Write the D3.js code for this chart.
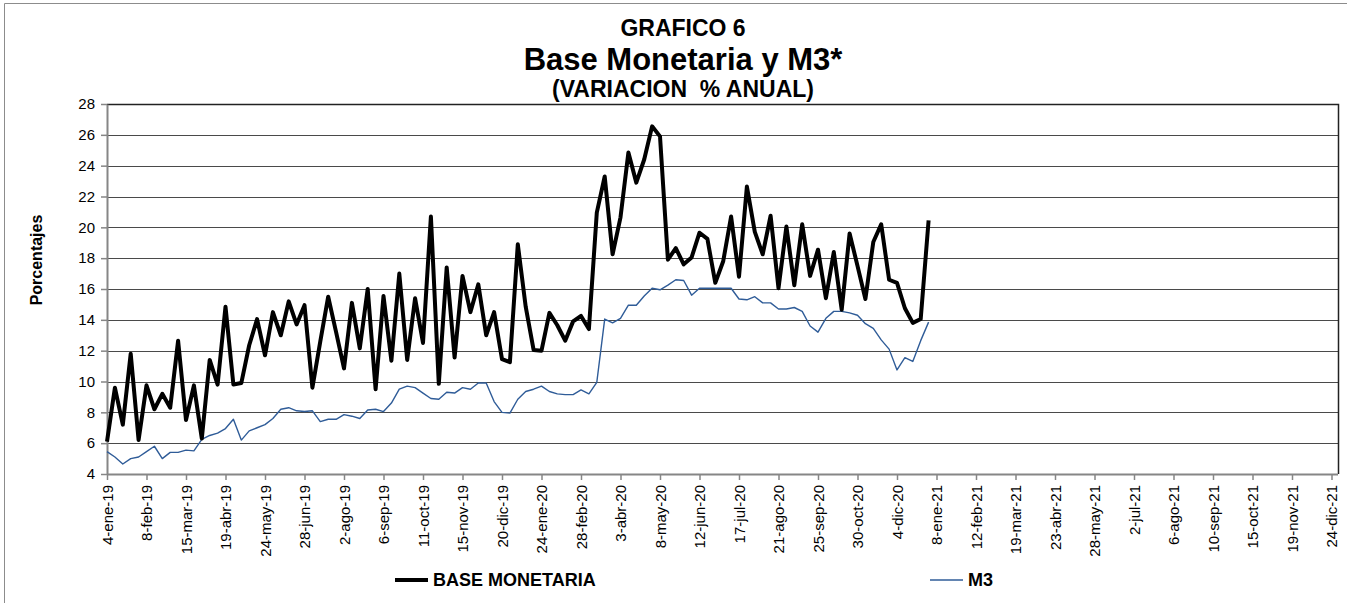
<!DOCTYPE html>
<html>
<head>
<meta charset="utf-8">
<script src="https://cdn.jsdelivr.net/npm/d3@7"></script>
<style>
  body { margin: 0; background: #fff; }
  text { font-family: "Liberation Sans", Arial, sans-serif; }
</style>
</head>
<body>
<div id="chart"></div>
<script>
var width = 1347;
var height = 603;

// semanas desde 4-ene-19 hasta 1-ene-21
var firstWeek = new Date(2019, 0, 4);
var base_monetaria = [
  6.1, 9.6, 7.2, 11.8, 6.2, 9.75, 8.2, 9.2, 8.3, 12.65,
  7.5, 9.75, 6.3, 11.4, 9.8, 14.85, 9.8, 9.9, 12.35, 14.05,
  11.7, 14.5, 13.0, 15.2, 13.7, 14.95, 9.6, 12.6, 15.5, 13.2,
  10.85, 15.1, 12.15, 16.0, 9.5, 15.55, 11.35, 17.0, 11.4, 15.4,
  12.5, 20.7, 9.85, 17.4, 11.55, 16.85, 14.5, 16.3, 13.0, 14.5,
  11.45, 11.25, 18.9, 14.85, 12.05, 12.0, 14.45, 13.65, 12.65, 13.9,
  14.25, 13.4, 20.95, 23.3, 18.25, 20.65, 24.85, 22.9, 24.4, 26.55,
  25.9, 17.9, 18.65, 17.6, 18.05, 19.65, 19.25, 16.4, 17.8, 20.7,
  16.8, 22.65, 19.7, 18.25, 20.75, 16.05, 20.05, 16.25, 20.2, 16.85,
  18.55, 15.4, 18.4, 14.65, 19.6, 17.5, 15.35, 19.05, 20.2, 16.6,
  16.4, 14.75, 13.8, 14.05, 20.45
];
var m3 = [
  5.45, 5.1, 4.65, 5.0, 5.1, 5.45, 5.8, 5.0, 5.4, 5.4,
  5.55, 5.5, 6.25, 6.5, 6.65, 6.95, 7.55, 6.2, 6.8, 7.0,
  7.2, 7.6, 8.2, 8.3, 8.1, 8.05, 8.1, 7.4, 7.55, 7.55,
  7.85, 7.75, 7.6, 8.15, 8.2, 8.05, 8.6, 9.5, 9.7, 9.6,
  9.25, 8.9, 8.85, 9.3, 9.25, 9.6, 9.5, 9.9, 9.9, 8.7,
  8.0, 7.95, 8.85, 9.35, 9.5, 9.7, 9.35, 9.2, 9.15, 9.15,
  9.45, 9.2, 9.95, 14.05, 13.8, 14.1, 14.95, 14.95, 15.55, 16.05,
  15.95, 16.25, 16.6, 16.55, 15.6, 16.05, 16.05, 16.05, 16.05, 16.05,
  15.35, 15.3, 15.5, 15.1, 15.1, 14.7, 14.7, 14.8, 14.55, 13.6,
  13.2, 14.1, 14.55, 14.55, 14.45, 14.3, 13.75, 13.45, 12.7, 12.1,
  10.75, 11.55, 11.3, 12.65, 13.85
];
var y_ticks = [4, 6, 8, 10, 12, 14, 16, 18, 20, 22, 24, 26, 28];
var month_names = ["ene", "feb", "mar", "abr", "may", "jun", "jul", "ago", "sep", "oct", "nov", "dic"];
var title_lines = ["GRAFICO 6", "Base Monetaria y M3*", "(VARIACION  % ANUAL)"];
var series_names = ["BASE MONETARIA", "M3"];

let axis_color = "#868686";
let grid_color = "#4a4a4a";
let base_color = "#000000";
let m3_color = "#2f5c98";

var weeks = base_monetaria.map(function(d, i) { return d3.timeWeek.offset(firstWeek, i); });
var lastTick = new Date(2021, 11, 24);
var x_ticks = d3.timeDay.range(firstWeek, d3.timeDay.offset(lastTick, 1), 35);

// bordes del area de trazado
var p_left = 107, p_right = 1338, p_top = 104, p_bottom = 474;

var svg = d3.select("#chart").append("svg")
  .attr("width", width)
  .attr("height", height);

// marco exterior
svg.append("path")
  .attr("d", "M4.5," + height + " L4.5,3.5 L" + width + ",3.5")
  .style("fill", "none")
  .style("stroke", "#8c8c8c")
  .style("stroke-width", 1);

var xscale = d3.scaleTime()
  .domain([firstWeek, lastTick])
  .range([p_left, 1331.5]);

var yscale = d3.scaleLinear()
  .domain([4, 28])
  .range([p_bottom, p_top]);

// grilla
svg.append("g").attr("id", "grid")
  .selectAll("line")
  .data(y_ticks.slice(1))
  .join("line")
  .attr("x1", p_left)
  .attr("x2", p_right)
  .attr("y1", function(d) { return Math.round(yscale(d)) + 0.5; })
  .attr("y2", function(d) { return Math.round(yscale(d)) + 0.5; })
  .style("stroke", grid_color)
  .style("stroke-width", 1.2);

// borde arriba y derecha
svg.append("path")
  .attr("d", "M" + p_left + "," + (p_top + 0.5) + " L" + (p_right + 0.5) + "," + (p_top + 0.5) + " L" + (p_right + 0.5) + "," + p_bottom)
  .style("fill", "none")
  .style("stroke", "#222")
  .style("stroke-width", 1.5);

// ejes
var fmt = function(d) {
  return d.getDate() + "-" + month_names[d.getMonth()] + "-" + String(d.getFullYear()).slice(2);
};

var x_axis = d3.axisBottom(xscale)
  .tickValues(x_ticks)
  .tickFormat(fmt)
  .tickSize(6)
  .tickSizeOuter(0);

var gx = svg.append("g").attr("id", "x_axis")
  .attr("transform", "translate(0," + p_bottom + ")")
  .call(x_axis);
gx.select(".domain").attr("d", "M" + p_left + ",0.5H" + p_right).style("stroke", axis_color).style("stroke-width", 2);
gx.selectAll(".tick line").style("stroke", axis_color).style("stroke-width", 1.5);
gx.selectAll(".tick text")
  .attr("transform", "rotate(-90)")
  .attr("x", -11)
  .attr("y", 0)
  .attr("dy", "0.35em")
  .style("text-anchor", "end")
  .style("font-size", "15px")
  .style("font-family", "'Liberation Sans', Arial, sans-serif")
  .style("fill", "#000");

var y_axis = d3.axisLeft(yscale)
  .tickValues(y_ticks)
  .tickFormat(d3.format("d"))
  .tickSize(6)
  .tickSizeOuter(0);

var gy = svg.append("g").attr("id", "y_axis")
  .attr("transform", "translate(" + p_left + ",0)")
  .call(y_axis);
gy.select(".domain").style("stroke", axis_color).style("stroke-width", 2);
gy.selectAll(".tick line").style("stroke", axis_color).style("stroke-width", 1.5);
gy.selectAll(".tick text")
  .attr("x", -12)
  .style("font-size", "15px")
  .style("font-family", "'Liberation Sans', Arial, sans-serif")
  .style("fill", "#000");

svg.append("text")
  .attr("transform", "translate(36,260) rotate(-90)")
  .attr("dy", "0.35em")
  .style("text-anchor", "middle")
  .style("font-size", "16px")
  .style("font-weight", "bold")
  .text("Porcentajes");

// series
var line = d3.line()
  .x(function(d, i) { return xscale(weeks[i]); })
  .y(function(d) { return yscale(d); });

svg.append("path")
  .datum(m3)
  .attr("d", line)
  .style("fill", "none")
  .style("stroke", m3_color)
  .style("stroke-width", 1.4)
  .style("stroke-linejoin", "round");

svg.append("path")
  .datum(base_monetaria)
  .attr("d", line)
  .style("fill", "none")
  .style("stroke", base_color)
  .style("stroke-width", 4)
  .style("stroke-linejoin", "round");

// titulos
var title_y = [28, 59, 89];
var title_size = [23, 31, 23];
svg.append("g").attr("id", "titles")
  .selectAll("text")
  .data(title_lines)
  .join("text")
  .attr("x", 683)
  .attr("y", function(d, i) { return title_y[i]; })
  .attr("dy", "0.35em")
  .style("text-anchor", "middle")
  .style("white-space", "pre")
  .style("font-weight", "bold")
  .style("font-size", function(d, i) { return title_size[i] + "px"; })
  .text(function(d) { return d; });

// leyenda
var legend = [
  { x: 395, color: base_color, w: 4 },
  { x: 930, color: m3_color, w: 1.4 }
];
var g_leg = svg.append("g").attr("id", "legend");
legend.forEach(function(l, i) {
  g_leg.append("line")
    .attr("x1", l.x).attr("x2", l.x + 33)
    .attr("y1", 580).attr("y2", 580)
    .style("stroke", l.color)
    .style("stroke-width", l.w);
  g_leg.append("text")
    .attr("x", l.x + 38)
    .attr("y", 580)
    .attr("dy", "0.35em")
    .style("font-weight", "bold")
    .style("font-size", "18px")
    .text(series_names[i]);
});
</script>
</body>
</html>
